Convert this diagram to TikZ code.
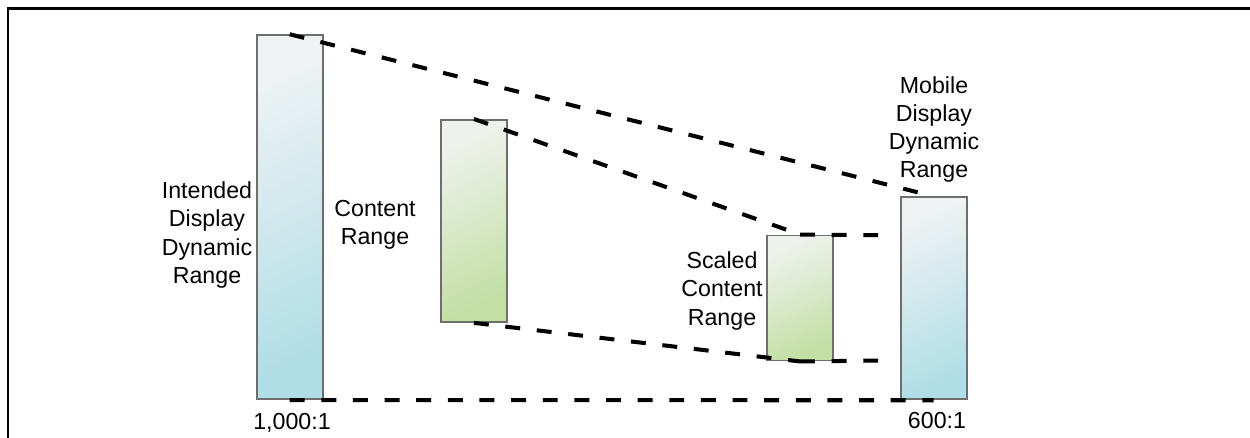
\documentclass[tikz,border=0pt]{standalone}
\usepackage{fontspec}
\setmainfont{Liberation Sans}
\definecolor{barline}{HTML}{6E6E6E}
\definecolor{bluelight}{HTML}{EEF2F3}
\definecolor{bluedeep}{HTML}{B0DEE6}
\definecolor{greenlight}{HTML}{EEF2EC}
\definecolor{greendeep}{HTML}{C2DFA4}
\tikzset{
  bar/.style={draw=barline, line width=1.1pt, minimum width=1.32cm, inner sep=0pt},
  bluebar/.style={bar, top color=bluelight, bottom color=bluedeep, shading angle=25},
  greenbar/.style={bar, top color=greenlight, bottom color=greendeep, shading angle=25},
  rangeline/.style={line width=2.3pt, dash pattern=on 8.5pt off 9.5pt},
  lbl/.style={align=center, font=\fontsize{13.2}{16}\selectfont}
}
\begin{document}
\begin{tikzpicture}[>=stealth, thick]
\useasboundingbox (0,0) rectangle (25,8.76);

\draw[line width=1.7pt] (0.16,0)--(0.16,8.58)--(25,8.58);

\node[bluebar, minimum height=7.28cm] (intended) at (5.794,4.416) {};
\node[greenbar, minimum height=4.04cm] (content) at (9.478,4.342) {};
\node[greenbar, minimum height=2.5cm] (scaled) at (16.0,2.80) {};
\node[bluebar, minimum height=4.04cm] (mobile) at (18.674,2.794) {};

\node[lbl] (intendedlbl) at (4.14,4.06) {Intended\\Display\\Dynamic\\Range};
\node[lbl] (contentlbl) at (7.5,4.27) {Content\\Range};
\node[lbl] (scaledlbl) at (14.44,2.94) {Scaled\\Content\\Range};
\node[lbl] (mobilelbl) at (18.68,6.17) {Mobile\\Display\\Dynamic\\Range};
\node[lbl] (intendedval) at (5.84,0.30) {1,000:1};
\node[lbl] (mobileval) at (18.74,0.34) {600:1};

\coordinate (scaledtop) at (17.7,4.054);
\coordinate (scaledbot) at (17.7,1.55);

\draw[rangeline] (intended.north)--(mobile.north);
\draw[rangeline] (content.north)--(scaled.north);
\draw[rangeline] (content.south)--(scaled.south);
\draw[rangeline] (scaled.north)--(scaledtop);
\draw[rangeline] (scaled.south)--(scaledbot);
\draw[rangeline] (intended.south)--(mobile.south);
\end{tikzpicture}
\end{document}
